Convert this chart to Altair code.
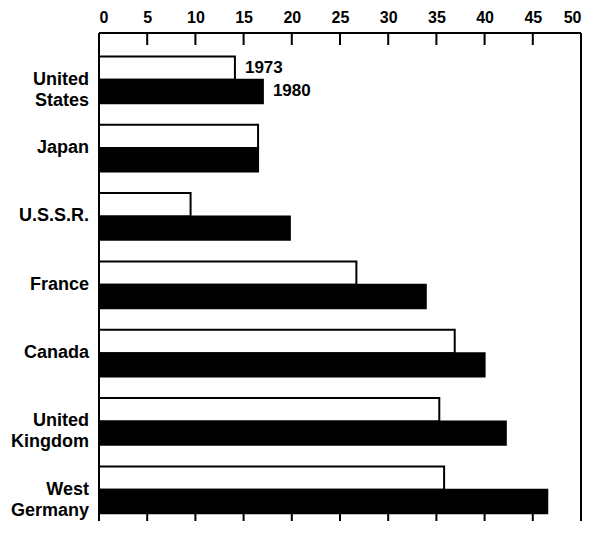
import altair as alt
import pandas as pd

countries = ["United States", "Japan", "U.S.S.R.", "France", "Canada",
             "United Kingdom", "West Germany"]
labels = ["United\nStates", "Japan", "U.S.S.R.", "France", "Canada",
          "United\nKingdom", "West\nGermany"]
years = ["1973", "1980"]
v1973 = [14.1, 16.5, 9.5, 26.7, 36.9, 35.3, 35.8]
v1980 = [17.0, 16.5, 19.8, 33.9, 40.0, 42.2, 46.5]
tick_labels = [0, 5, 10, 15, 20, 25, 30, 35, 40, 45, 50]
inner_ticks = [5, 10, 15, 20, 25, 30, 35, 40, 45]

W = 482
H = 488
FONT = "Liberation Sans"

rows = []
for c, a, b in zip(countries, v1973, v1980):
    rows.append({"country": c, "year": "1973", "value": a})
    rows.append({"country": c, "year": "1980", "value": b})
bars_df = pd.DataFrame(rows)

label_df = pd.DataFrame({"country": countries, "label": labels})
ann_df = pd.DataFrame({
    "country": [countries[0], countries[0]],
    "year": years,
    "value": [v1973[0], v1980[0]],
    "label": years,
})
tick_df = pd.DataFrame({"value": inner_ticks})

y_enc = alt.Y("country:N", sort=countries, axis=None,
              scale=alt.Scale(domain=countries, range=[12.6, 491],
                              paddingInner=0.316, paddingOuter=0.158))
yoff = alt.YOffset("year:N", sort=years,
                   scale=alt.Scale(domain=years, paddingInner=0, paddingOuter=0))
x_scale = alt.Scale(domain=[0, 50], nice=False, zero=True)
x_axis = alt.Axis(orient="top", values=tick_labels, ticks=False,
                  domain=False, grid=False, labelFont=FONT,
                  labelFontSize=16, labelFontWeight="bold",
                  labelColor="black", labelPadding=8,
                  labelFlush=True, title=None)
x_enc = alt.X("value:Q", scale=x_scale, axis=x_axis, title=None)

bars = alt.Chart(bars_df).mark_bar(stroke="black", strokeWidth=2).encode(
    x=x_enc,
    x2=alt.datum(0),
    y=y_enc,
    yOffset=yoff,
    fill=alt.Fill("year:N", scale=alt.Scale(domain=years, range=["white", "black"]),
                  legend=None),
)

ann = alt.Chart(ann_df).mark_text(align="left", baseline="middle", dx=10,
                                  font=FONT, fontSize=17, fontWeight="bold",
                                  color="black").encode(
    x=x_enc,
    y=y_enc,
    yOffset=yoff,
    text="label:N",
)

ylab = alt.Chart(label_df).mark_text(align="right", baseline="middle",
                                     lineBreak="\n", lineHeight=21,
                                     font=FONT, fontSize=18, fontWeight="bold",
                                     color="black").encode(
    x=alt.value(-10),
    y=y_enc,
    text="label:N",
)

top_ticks = alt.Chart(tick_df).mark_rule(color="black", strokeWidth=2).encode(
    x=x_enc,
    y=alt.value(0),
    y2=alt.value(12),
)
bot_ticks = alt.Chart(tick_df).mark_rule(color="black", strokeWidth=2).encode(
    x=x_enc,
    y=alt.value(H - 7),
    y2=alt.value(H),
)

frame_df = pd.DataFrame({"k": [0]})
top_line = alt.Chart(frame_df).mark_rule(color="black", strokeWidth=2).encode(
    x=alt.value(0), x2=alt.value(W), y=alt.value(0))
left_line = alt.Chart(frame_df).mark_rule(color="black", strokeWidth=2).encode(
    x=alt.value(0), y=alt.value(0), y2=alt.value(H))
right_line = alt.Chart(frame_df).mark_rule(color="black", strokeWidth=2).encode(
    x=alt.value(W), y=alt.value(0), y2=alt.value(H))

chart = alt.layer(bars, ann, ylab, top_ticks, bot_ticks,
                  top_line, left_line, right_line).properties(
    width=W, height=H,
    autosize=alt.AutoSizeParams(type="none"),
    padding={"left": 91, "top": 25, "right": 2, "bottom": 0},
).configure_view(stroke=None).configure(background="white")

chart.save("out.html", embed_options={"renderer": "svg", "actions": False})
